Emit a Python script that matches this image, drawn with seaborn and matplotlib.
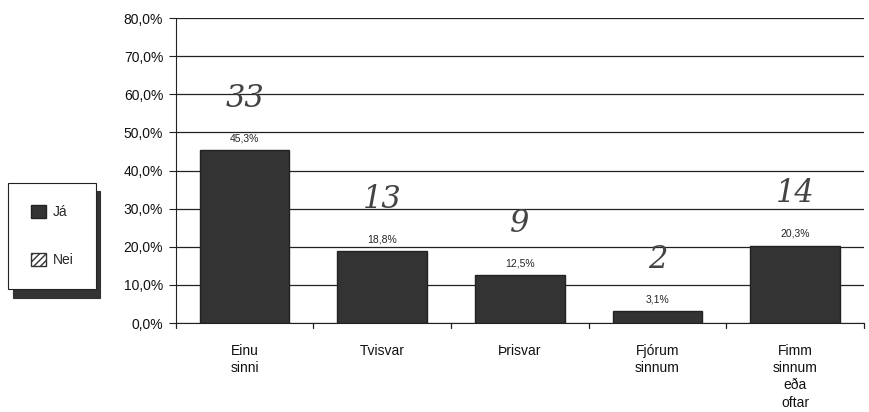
import matplotlib
matplotlib.use("Agg")
import matplotlib.pyplot as plt
import matplotlib.patches as mpatches
import pandas as pd
import seaborn as sns

# data
categories = ["Einu\nsinni", "Tvisvar", "Þrisvar", "Fjórum\nsinnum", "Fimm\nsinnum\neða\noftar"]
percent = [45.3, 18.8, 12.5, 3.1, 20.3]
handwritten = ["33", "13", "9", "2", "14"]
y_ticks = [0, 10, 20, 30, 40, 50, 60, 70, 80]
legend_labels = ["Já", "Nei"]

df = pd.DataFrame({"flokkur": categories, "hlutfall": percent})

sns.set_style("white")
plt.rcParams["font.family"] = ["Liberation Sans", "DejaVu Sans"]

fig = plt.figure(figsize=(8.7, 4.12), dpi=100)
ax = fig.add_axes([0.202, 0.216, 0.791, 0.74])

# gridlines behind bars
ax.set_axisbelow(True)
ax.yaxis.grid(True, color="#222222", linewidth=0.9)

sns.barplot(data=df, x="flokkur", y="hlutfall", color="#333333", width=0.65,
            saturation=1, edgecolor="#222222", ax=ax)

ax.set_ylim(0, 80)
ax.set_xlim(-0.5, len(categories) - 0.5)
ax.set_yticks(y_ticks)
ax.set_yticklabels([f"{t:.1f}%".replace(".", ",") for t in y_ticks], fontsize=10, color="#111111")
ax.set_xlabel("")
ax.set_ylabel("")
ax.set_xticks(range(len(categories)))
ax.set_xticklabels(categories, fontsize=10, va="top", linespacing=1.3, color="#111111")
ax.tick_params(axis="x", length=0, pad=15)
ax.tick_params(axis="y", length=5, direction="out", left=True, color="#222222", pad=4)

# tick marks between categories on x axis
for i in range(len(categories) + 1):
    ax.plot([i - 0.5, i - 0.5], [0, -1.2], color="#222222", lw=0.9, clip_on=False)

for side in ["top", "right"]:
    ax.spines[side].set_visible(False)
ax.spines["left"].set_color("#222222")
ax.spines["bottom"].set_color("#222222")

# value labels above bars
for i, v in enumerate(percent):
    ax.text(i, v + 1.8, f"{v:.1f}%".replace(".", ","), ha="center", va="bottom", fontsize=7.5)

# handwritten counts written on the printout
for i, (v, h) in enumerate(zip(percent, handwritten)):
    ax.text(i, v + 9.5, h, ha="center", va="bottom", fontsize=22, fontstyle="italic",
            family="DejaVu Serif", color="#444444", fontweight="light")

# legend on the left with a shadow below
handles = [
    mpatches.Patch(facecolor="#333333", edgecolor="#222222", label=legend_labels[0]),
    mpatches.Patch(facecolor="white", edgecolor="#333333", hatch="/////", label=legend_labels[1]),
]
leg = fig.legend(handles=handles, loc="center", bbox_to_anchor=(0.06, 0.427),
                 frameon=True, fancybox=False, labelspacing=2.4, borderpad=1.6,
                 handlelength=1.1, handleheight=1.1, handletextpad=0.5, fontsize=10,
                 shadow={"color": "#333333", "alpha": 1.0, "ox": 3, "oy": -6})
leg.get_frame().set_edgecolor("#222222")
leg.get_frame().set_linewidth(0.8)

fig.savefig("out.png", dpi=100)
